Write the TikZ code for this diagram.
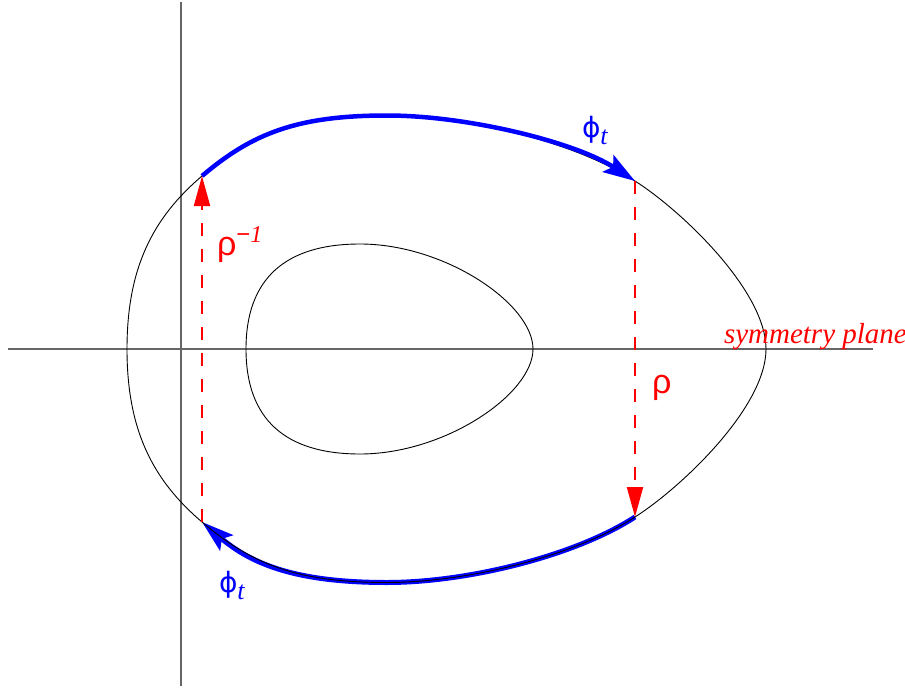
\documentclass[tikz,border=0pt]{standalone}
\usepackage{fontspec}
\setmainfont{Liberation Serif}
\newfontfamily\grk{Liberation Sans}
\newfontfamily\phifont{DejaVu Sans}
\usetikzlibrary{arrows.meta}
\newcommand\phit{{\fontsize{28}{28}\selectfont\phifont ϕ}\raisebox{-7pt}{\fontsize{26}{26}\selectfont\rmfamily\itshape t}}
\begin{document}
\begin{tikzpicture}[x=1pt,y=-1pt,
  axis/.style={draw=black!60, line width=1.3pt},
  curve/.style={draw=black, line width=0.9pt},
  flowtop/.style={draw=blue, line width=4.5pt, -{Stealth[length=32pt,width=20pt,inset=6pt]}},
  flowbot/.style={draw=blue, line width=5pt, -{Stealth[length=32pt,width=20pt,inset=6pt]}},
  refl/.style={draw=red, line width=2pt, dash pattern=on 13pt off 13pt, -{Triangle[length=30pt,width=16pt]}},
  lab/.style={inner sep=0pt, outer sep=0pt}]
\useasboundingbox (0,0) rectangle (905,688);
% axes
\coordinate (vtop) at (181,2);
\coordinate (vbot) at (181,686);
\coordinate (hl) at (8,349);
\coordinate (hr) at (873,349);
\draw[axis] (vtop) -- (vbot);
\draw[axis] (hl) -- (hr);
% end points of the flow arcs
\coordinate (A) at (202,176);
\coordinate (B) at (635,181);
\coordinate (C) at (635,517);
\coordinate (D) at (202,522);
% inner curve
\draw[curve] (246,349) .. controls (246,279) and (285,244) .. (360,244)
  .. controls (445,244) and (533,304) .. (533,349)
  .. controls (533,394) and (445,454) .. (360,454)
  .. controls (285,454) and (246,419) .. (246,349) -- cycle;
% bottom blue arc
\draw[flowbot] (C) .. controls (575,556) and (467,582.5) .. (387,582.5)
  .. controls (297,582.5) and (252,564.5) .. (D);
% outer curve
\draw[curve] (127,349) .. controls (127,269) and (152,218.5) .. (A)
  .. controls (252,133.5) and (297,115.5) .. (387,115.5)
  .. controls (467,115.5) and (575,142) .. (B)
  .. controls (682,211) and (766,291) .. (766,349)
  .. controls (766,407) and (682,487) .. (C)
  .. controls (575,556) and (467,582.5) .. (387,582.5)
  .. controls (297,582.5) and (252,564.5) .. (D)
  .. controls (152,479.5) and (127,429) .. (127,349) -- cycle;
% top blue arc
\draw[flowtop] (A) .. controls (252,133.5) and (297,115.5) .. (387,115.5)
  .. controls (467,115.5) and (575,142) .. (B);
% reflections
\draw[refl] (D) -- (A);
\draw[refl] (B) -- (C);
% labels
\node[lab, text=blue, anchor=base west] (phitop) at (582,137) {\phit};
\node[lab, text=blue, anchor=base west] (phibot) at (219,592) {\phit};
\node[lab, text=red, anchor=base west] (rhoinv) at (217,255) {{\fontsize{34}{34}\selectfont\grk ρ}\raisebox{13pt}{\fontsize{24}{24}\selectfont\grk −\rmfamily\itshape 1}};
\node[lab, text=red, anchor=base west] (rho) at (652,393) {\fontsize{34}{34}\selectfont\grk ρ};
\node[lab, text=red, anchor=base west] (sym) at (724,343) {\fontsize{29}{29}\selectfont\itshape symmetry plane};
\end{tikzpicture}
\end{document}
